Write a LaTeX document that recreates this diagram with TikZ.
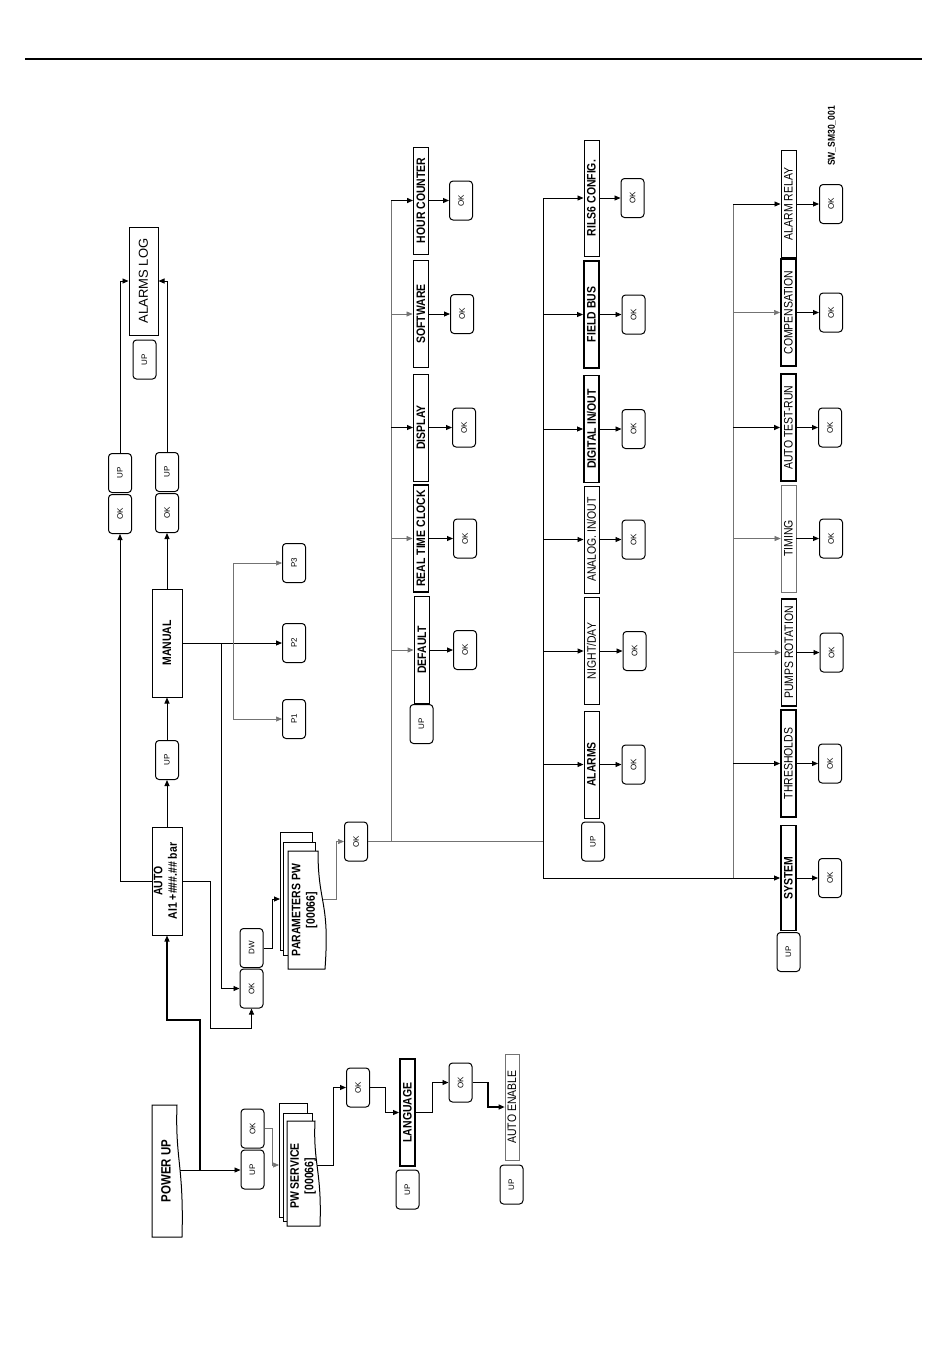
\documentclass[tikz,border=0pt]{standalone}
\usepackage{fontspec}
\usepackage{graphicx}
\setmainfont{Liberation Sans}
\newfontfamily\nfont[FakeStretch=0.85]{Liberation Sans}
\usetikzlibrary{arrows.meta}
\newcommand{\rtxt}[1]{\rotatebox{90}{#1}}
\newcommand{\rtwo}[2]{\rotatebox{90}{\begin{tabular}{@{}c@{}}#1\\[1.5pt]{#2}\end{tabular}}}
\tikzset{
  box/.style={draw, line width=1pt, fill=white, inner sep=0pt, minimum width=15pt, minimum height=107pt, font={\nfont\fontsize{12.3}{13}\selectfont}},
  boxb/.style={box, font={\nfont\bfseries\fontsize{12.3}{13}\selectfont}},
  thickbox/.style={line width=1.9pt},
  thinbox/.style={draw=black!55, line width=0.7pt},
  btn/.style={draw, rounded corners=3.5pt, line width=1pt, fill=white, inner sep=0pt, minimum width=23pt, minimum height=39pt, font={\fontsize{8}{9}\selectfont}},
  con/.style={line width=0.9pt},
  arr/.style={con, -{Triangle[length=6pt,width=5pt]}},
  gcon/.style={draw=black!55, line width=0.6pt},
  garr/.style={gcon, -{Triangle[length=6pt,width=5pt]}},
  page/.style={draw, line width=0.9pt, fill=white},
  twoline/.style={font={\nfont\bfseries\fontsize{12.3}{13}\selectfont}},
}
\begin{document}
\begin{tikzpicture}[x=1pt,y=-1pt]
\useasboundingbox (0,0) rectangle (950,1369);
% top rule
\draw[line width=1.3pt] (25,59) -- (922,59);

% ---------- POWER UP ----------
\draw[page, line width=1pt] (152,1105) -- (177,1105) .. controls (175,1160) and (184,1165) .. (182,1237) -- (152,1237) -- cycle;
\node[font={\nfont\bfseries\fontsize{13.5}{14}\selectfont}] (power) at (166,1171) {\rtxt{POWER UP}};
\coordinate (powerR) at (180,1170);
\node[btn] (ok1) at (252.5,1128.5) {\rtxt{OK}};
\node[btn] (up1) at (252.5,1169.5) {\rtxt{UP}};
\draw[arr] (powerR) -- (powerR -| up1.west);
\coordinate (j1) at (200,1170);

% PW SERVICE stack
\draw[page] (279,1103) rectangle (307,1217);
\draw[page] (283,1113) rectangle (312,1221);
\draw[page, line width=1pt] (287,1121) -- (315,1121) .. controls (313,1165) and (322,1170) .. (320,1226) -- (287,1226) -- cycle;
\node[twoline] (pws) at (303.5,1176) {\rtwo{PW SERVICE}{[00066]}};
\coordinate (pwsL) at (279,1165);
\coordinate (pwsR) at (317,1165);
\draw[garr] (ok1.east) -- (272,1128.5) -- (272,1165) -- (pwsL);

\node[btn] (ok2) at (358,1087.5) {\rtxt{OK}};
\draw[arr] (pwsR) -- (333,1165) -- (333,1087.5) -- (ok2.west);
\node[boxb, thickbox] (lang) at (407.5,1112.5) {\rtxt{LANGUAGE}};
\node[btn] (up3) at (407.5,1189.5) {\rtxt{UP}};
\draw[arr] (ok2.east) -- (385,1087.5) -- (385,1112.5) -- (lang.west);
\node[btn] (ok3) at (460.5,1082.5) {\rtxt{OK}};
\draw[arr] (lang.east) -- (432,1112.5) -- (432,1082.5) -- (ok3.west);
\node[box, thinbox, minimum width=14pt, minimum height=106pt] (aen) at (512,1107) {\rtxt{AUTO ENABLE}};
\node[btn] (up4) at (511.5,1184.5) {\rtxt{UP}};
\draw[arr, line width=1.2pt] (ok3.east) -- (488,1082.5) -- (488,1107) -- (aen.west);

% ---------- AUTO / MANUAL ----------
\node[boxb, twoline, minimum width=30pt, minimum height=108pt] (auto) at (167,881) {\rtwo{AUTO}{AI1 +\#\#\#.\#\# bar}};
\draw[arr, line width=1.1pt] (j1) -- (200,1020) -- (167,1020) -- (auto.south);
\node[btn] (upa) at (167,760) {\rtxt{UP}};
\node[boxb, minimum width=30pt, minimum height=108pt] (manual) at (167,643) {\rtxt{MANUAL}};
\node[btn] (okm) at (167,513) {\rtxt{OK}};
\node[btn] (upm) at (167,472) {\rtxt{UP}};
\node[btn] (okl) at (120,514) {\rtxt{OK}};
\node[btn] (upl) at (120,473) {\rtxt{UP}};
\node[box, minimum width=29pt, minimum height=108pt, font={\fontsize{13}{14}\selectfont}] (alog) at (143.5,281) {\rtxt{ALARMS LOG}};
\node[btn] (uplog) at (144.5,359.5) {\rtxt{UP}};

\draw[arr] (auto.north) -- (upa.south);
\draw[arr] (upa.north) -- (manual.south);
\draw[arr] (manual.north) -- (okm.south);
\draw[arr] (auto.west) -- (120,881) -- (okl.south);
\draw[arr] (upl.north) -- (120,281) -- (alog.west);
\draw[arr] (upm.north) -- (167,281) -- (alog.east);

% P1 P2 P3
\node[btn] (p3) at (294,563) {\rtxt{P3}};
\node[btn] (p2) at (294,643) {\rtxt{P2}};
\node[btn] (p1) at (294,719) {\rtxt{P1}};
\draw[arr] (manual.east) -- (p2.west);
\coordinate (v233) at (233,643);
\draw[garr] (v233) -- (233,563) -- (p3.west);
\draw[garr] (v233) -- (233,719) -- (p1.west);

% OK / DW
\node[btn] (okd) at (251.5,988.5) {\rtxt{OK}};
\node[btn] (dw) at (251.5,948) {\rtxt{DW}};
\coordinate (v221) at (221,643);
\draw[arr] (v221) -- (221,988.5) -- (okd.west);
\draw[arr] (auto.east) -- (210,881) -- (210,1028) -- (251.5,1028) -- (okd.south);

% PARAMETERS PW stack
\draw[page] (280,832) rectangle (312,950);
\draw[page] (283,842) rectangle (315,955);
\draw[page, line width=1pt] (288,851) -- (318,851) .. controls (318,905) and (330,900) .. (325,969) -- (288,969) -- cycle;
\node[twoline] (parpw) at (305,910) {\rtwo{PARAMETERS PW}{[00066]}};
\coordinate (parL) at (280,899);
\coordinate (parR) at (323,899);
\draw[arr] (dw.east) -- (272,948) -- (272,899) -- (parL);
\node[btn] (okp) at (356,841.5) {\rtxt{OK}};
\draw[garr] (parR) -- (336,899) -- (336,841.5) -- (okp.west);

% ---------- column 1 ----------
\node[boxb] (hour) at (421,200.5) {\rtxt{HOUR COUNTER}};
\node[boxb, thickbox] (soft) at (421,314) {\rtxt{SOFTWARE}};
\node[boxb] (disp) at (421,427.5) {\rtxt{DISPLAY}};
\node[boxb, thickbox] (rtc) at (421,538.5) {\rtxt{REAL TIME CLOCK}};
\node[boxb, thickbox] (dflt) at (422,650) {\rtxt{DEFAULT}};
\node[btn] (upc1) at (421.5,724) {\rtxt{UP}};
\node[btn] (okh) at (461,200.5) {\rtxt{OK}};
\node[btn] (oks) at (462,314) {\rtxt{OK}};
\node[btn] (okdi) at (464,427.5) {\rtxt{OK}};
\node[btn] (okr) at (465,538.5) {\rtxt{OK}};
\node[btn] (okdf) at (465,650) {\rtxt{OK}};
\coordinate (c1) at (391,841.5);
\coordinate (c2) at (543,841.5);
\draw[gcon] (okp.east) -- (c2);
\draw[gcon] (c1) -- (c1 |- hour);
\draw[arr, line width=1.4pt] (c1 |- hour) -- (hour.west);
\draw[garr] (c1 |- soft) -- (soft.west);
\draw[arr] (c1 |- disp) -- (disp.west);
\draw[garr] (c1 |- rtc) -- (rtc.west);
\draw[garr, line width=0.9pt] (c1 |- dflt) -- (dflt.west);
\draw[arr, line width=1.2pt] (hour.east) -- (okh.west);
\draw[arr] (soft.east) -- (oks.west);
\draw[arr] (disp.east) -- (okdi.west);
\draw[arr] (rtc.east) -- (okr.west);
\draw[arr] (dflt.east) -- (okdf.west);

% ---------- column 2 ----------
\node[boxb, minimum height=116pt] (rils) at (591.5,198) {\rtxt{RILS6 CONFIG.}};
\node[boxb, thickbox] (fbus) at (591.5,314.5) {\rtxt{FIELD BUS}};
\node[boxb, thickbox] (dig) at (591.5,429) {\rtxt{DIGITAL IN/OUT}};
\node[box] (ana) at (591.5,539.5) {\rtxt{ANALOG. IN/OUT}};
\node[box, line width=0.7pt] (night) at (591.5,651) {\rtxt{NIGHT/DAY}};
\node[boxb] (alarms) at (591.5,764.5) {\rtxt{ALARMS}};
\node[btn] (upc2) at (593,841.5) {\rtxt{UP}};
\node[btn] (okri) at (632.5,198) {\rtxt{OK}};
\node[btn] (okfb) at (633.5,314.5) {\rtxt{OK}};
\node[btn] (okdg) at (633.5,429) {\rtxt{OK}};
\node[btn] (okan) at (633.5,539.5) {\rtxt{OK}};
\node[btn] (oknd) at (634.5,651) {\rtxt{OK}};
\node[btn] (okal) at (633.5,764.5) {\rtxt{OK}};
\coordinate (c2b) at (543,878);
\draw[con] (c2 |- rils) -- (c2b);
\draw[arr] (c2 |- rils) -- (rils.west);
\draw[arr] (c2 |- fbus) -- (fbus.west);
\draw[arr] (c2 |- dig) -- (dig.west);
\draw[arr] (c2 |- ana) -- (ana.west);
\draw[arr] (c2 |- night) -- (night.west);
\draw[arr] (c2 |- alarms) -- (alarms.west);
\draw[arr] (rils.east) -- (okri.west);
\draw[arr] (fbus.east) -- (okfb.west);
\draw[arr] (dig.east) -- (okdg.west);
\draw[arr] (ana.east) -- (okan.west);
\draw[arr] (night.east) -- (oknd.west);
\draw[arr] (alarms.east) -- (okal.west);

% ---------- column 3 ----------
\node[box] (arelay) at (788.5,204) {\rtxt{ALARM RELAY}};
\node[box, thickbox] (comp) at (788.5,312.5) {\rtxt{COMPENSATION}};
\node[box, thickbox] (atr) at (788.5,427.5) {\rtxt{AUTO TEST-RUN}};
\node[box, thinbox] (timing) at (788.5,538.5) {\rtxt{TIMING}};
\node[box, line width=1.5pt] (pumps) at (789,652.5) {\rtxt{PUMPS ROTATION}};
\node[box, thickbox] (thr) at (788.5,763.5) {\rtxt{THRESHOLDS}};
\node[boxb, thickbox, minimum height=105pt] (system) at (788.5,878) {\rtxt{SYSTEM}};
\node[btn] (upc3) at (788.5,952) {\rtxt{UP}};
\node[btn] (okar) at (831,204) {\rtxt{OK}};
\node[btn] (okco) at (831,312.5) {\rtxt{OK}};
\node[btn] (okat) at (830,427.5) {\rtxt{OK}};
\node[btn] (okti) at (831,538.5) {\rtxt{OK}};
\node[btn] (okpu) at (831.5,652.5) {\rtxt{OK}};
\node[btn] (okth) at (830,763.5) {\rtxt{OK}};
\node[btn] (oksy) at (830,878) {\rtxt{OK}};
\draw[arr] (c2b) -- (system.west);
\coordinate (c3) at (733,878);
\draw[gcon] (c3) -- (c3 |- arelay);
\draw[arr] (c3 |- arelay) -- (arelay.west);
\draw[garr] (c3 |- comp) -- (comp.west);
\draw[arr, line width=1.4pt] (c3 |- atr) -- (atr.west);
\draw[garr] (c3 |- timing) -- (timing.west);
\draw[garr, line width=1.1pt] (c3 |- pumps) -- (pumps.west);
\draw[arr] (c3 |- thr) -- (thr.west);
\draw[arr] (arelay.east) -- (okar.west);
\draw[arr] (comp.east) -- (okco.west);
\draw[arr] (atr.east) -- (okat.west);
\draw[arr] (timing.east) -- (okti.west);
\draw[arr] (pumps.east) -- (okpu.west);
\draw[arr] (thr.east) -- (okth.west);
\draw[arr] (system.east) -- (oksy.west);

% reference label
\node[font={\nfont\bfseries\fontsize{10}{11}\selectfont}] (swlbl) at (832,136) {\rtxt{SW\_SM30\_001}};
\end{tikzpicture}
\end{document}
